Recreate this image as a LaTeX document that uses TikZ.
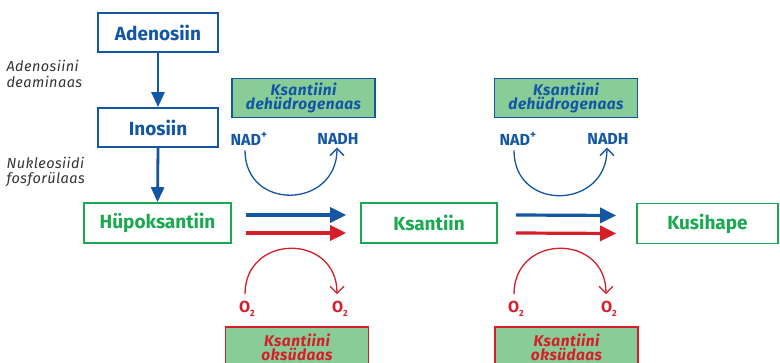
\documentclass[tikz,border=0pt]{standalone}
\usepackage{fontspec}
\setmainfont{Fira Sans}
\usetikzlibrary{arrows.meta}
\definecolor{dblue}{RGB}{18,86,164}
\definecolor{dgreen}{RGB}{26,168,80}
\definecolor{dred}{RGB}{214,30,42}
\definecolor{efill}{RGB}{136,204,152}
\tikzset{
  mbox/.style={draw=dblue, line width=1.8pt, fill=white, minimum width=120pt, minimum height=39pt, text=dblue, font=\fontsize{19}{21}\selectfont\bfseries},
  gbox/.style={draw=dgreen, line width=1.6pt, fill=white, minimum height=40pt, text=dgreen, font=\fontsize{19}{21}\selectfont\bfseries},
  enzb/.style={draw=dblue, line width=1.6pt, fill=efill, minimum width=143pt, minimum height=39pt, text=dblue, align=center, font=\fontsize{15.5}{15}\selectfont\bfseries\itshape\addfontfeatures{LetterSpace=3}, inner sep=1pt},
  enzr/.style={draw=dred, line width=1.6pt, fill=efill, minimum width=143pt, minimum height=40pt, text=dred, align=center, font=\fontsize{15.5}{15}\selectfont\bfseries\itshape\addfontfeatures{LetterSpace=3}, inner sep=1pt},
  lbl/.style={align=left, anchor=west, text=black!80, font=\fontsize{14.5}{15.5}\selectfont\itshape\addfontfeatures{LetterSpace=3}},
  cof/.style={font=\fontsize{16}{16}\selectfont\bfseries, inner sep=1pt},
  down/.style={-{Triangle[length=15pt,width=13pt]}, line width=2.8pt, dblue},
  barb/.style={-{Straight Barb[length=7pt,width=14pt]}, line width=1.3pt},
  bigarr/.style={-{Triangle[length=16pt,width=15pt]}, line width=3.2pt}
}
\begin{document}
\begin{tikzpicture}[x=1pt,y=-1pt]
\useasboundingbox (0,0) rectangle (780,363);
\clip (0,0) rectangle (780,363);
% main nodes
\node[mbox] (aden) at (158,32.5) {Adenosiin};
\node[mbox] (ino) at (158,127.5) {Inosiin};
\node[gbox, minimum width=147pt] (hyp) at (157.5,223) {Hüpoksantiin};
\node[gbox, minimum width=136pt] (ks) at (429,223) {Ksantiin};
\node[gbox, minimum width=141pt] (kus) at (707.5,223.5) {Kusihape};
% left labels
\node[lbl] (l1) at (3,74) {Adenosiini\\deaminaas};
\node[lbl] (l2) at (3,172) {Nukleosiidi\\fosforülaas};
% vertical arrows
\draw[down] (aden.south) -- (ino.north);
\draw[down] (ino.south) -- (hyp.north);
% enzymes
\node[enzb] (xdh1) at (303.5,98) {Ksantiini\\[-1pt]dehüdrogenaas};
\node[enzb] (xdh2) at (566,98) {Ksantiini\\[-1pt]dehüdrogenaas};
\node[enzr] (xo1) at (297,347) {Ksantiini\\[-1pt]oksüdaas};
\node[enzr] (xo2) at (566.5,347) {Ksantiini\\[-1pt]oksüdaas};
% cofactors
\node[cof, text=dblue] (nad1) at (249,139) {NAD\textsuperscript{+}};
\node[cof, text=dblue] (nadh1) at (338,139) {NADH};
\node[cof, text=dblue] (nad2) at (518,139) {NAD\textsuperscript{+}};
\node[cof, text=dblue] (nadh2) at (608,139) {NADH};
\node[cof, text=dred] (o1) at (247,309) {O\raisebox{-0.45ex}{\fontsize{9}{9}\selectfont 2}};
\node[cof, text=dred] (o2) at (340,309) {O\raisebox{-0.45ex}{\fontsize{9}{9}\selectfont 2}};
\node[cof, text=dred] (o3) at (516,309) {O\raisebox{-0.45ex}{\fontsize{9}{9}\selectfont 2}};
\node[cof, text=dred] (o4) at (609,309) {O\raisebox{-0.45ex}{\fontsize{9}{9}\selectfont 2}};
% arcs
\draw[barb, dblue] ([xshift=-4pt,yshift=-4pt]nad1.south) to[out=-90,in=-90,looseness=1.7] ([xshift=-1pt,yshift=-2pt]nadh1.south);
\draw[barb, dblue] ([xshift=-4pt,yshift=-4pt]nad2.south) to[out=-90,in=-90,looseness=1.7] ([xshift=-1pt,yshift=-2pt]nadh2.south);
\draw[barb, dred] ([xshift=-2pt,yshift=6pt]o1.north) to[out=90,in=90,looseness=1.7] ([xshift=-3pt,yshift=6pt]o2.north);
\draw[barb, dred] ([xshift=-2pt,yshift=6pt]o3.north) to[out=90,in=90,looseness=1.7] ([xshift=-3pt,yshift=6pt]o4.north);
% horizontal arrows
\draw[bigarr, dblue] ([xshift=14pt,yshift=8pt]hyp.east) -- ([xshift=-14pt,yshift=8pt]ks.west);
\draw[bigarr, dred] ([xshift=14pt,yshift=-10pt]hyp.east) -- ([xshift=-14pt,yshift=-10pt]ks.west);
\draw[bigarr, dblue] ([xshift=18pt,yshift=8pt]ks.east) -- ([xshift=-20pt,yshift=8pt]kus.west);
\draw[bigarr, dred] ([xshift=18pt,yshift=-10pt]ks.east) -- ([xshift=-20pt,yshift=-10pt]kus.west);
\end{tikzpicture}
\end{document}
